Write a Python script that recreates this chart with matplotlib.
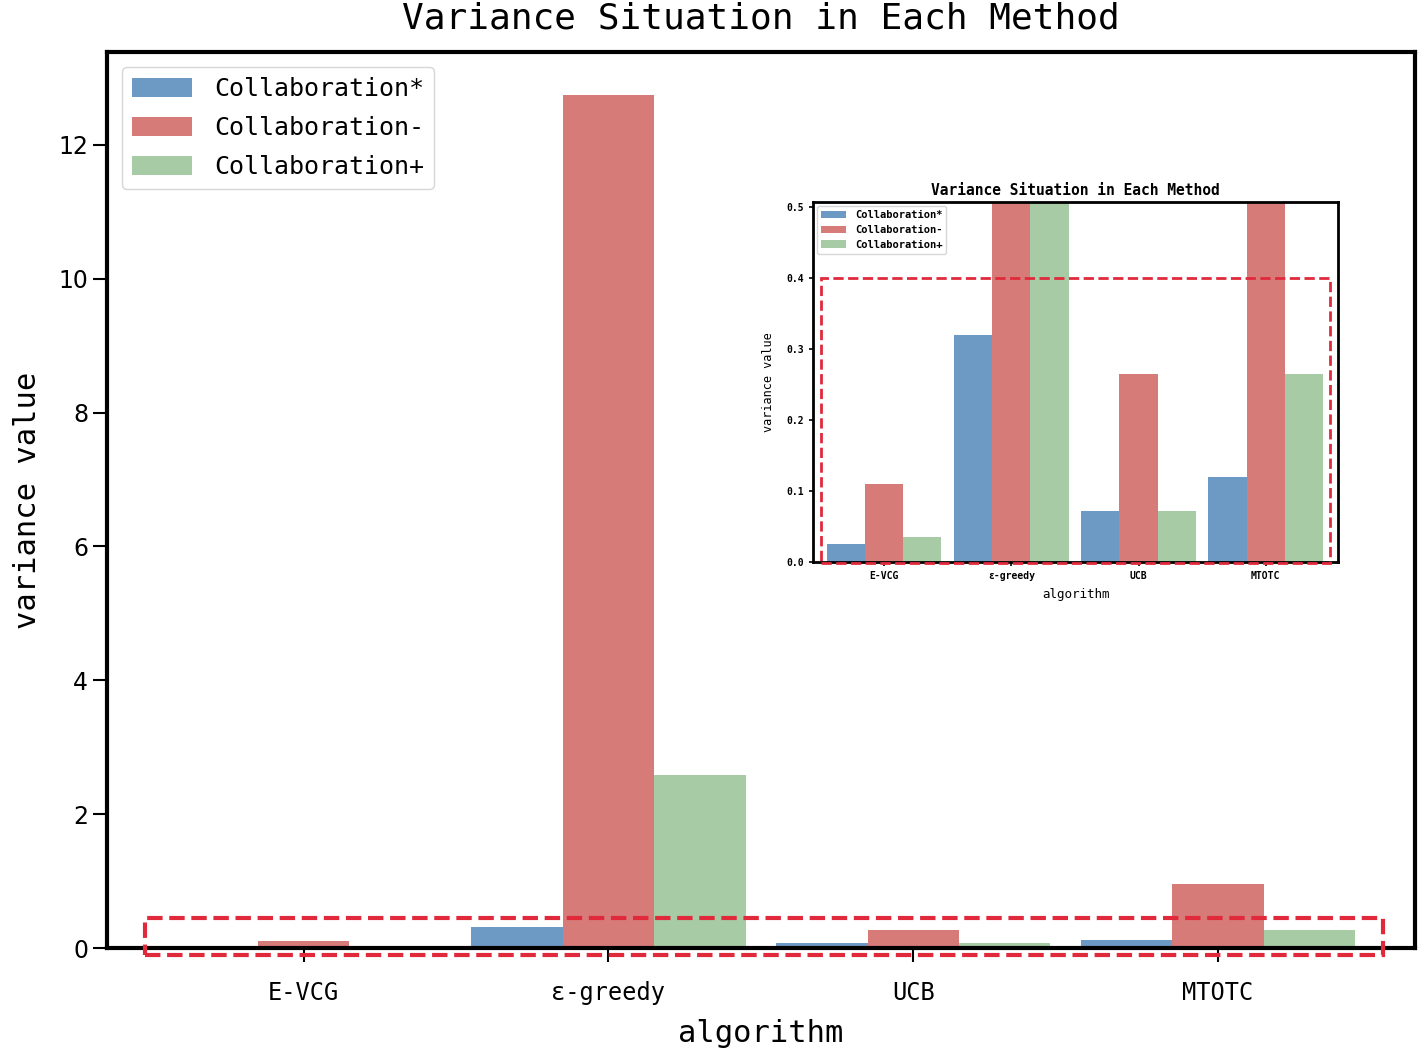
import matplotlib
matplotlib.use("Agg")
import matplotlib.pyplot as plt
import matplotlib.patches as mpatches
import numpy as np

plt.rcParams['font.family'] = ['DejaVu Sans Mono', 'DejaVu Sans']

# data
algorithms = ['E-VCG', 'ε-greedy', 'UCB', 'MTOTC']
series = ['Collaboration*', 'Collaboration-', 'Collaboration+']
collab_star = [0.025, 0.32, 0.072, 0.12]
collab_minus = [0.11, 12.75, 0.265, 0.957]
collab_plus = [0.035, 2.59, 0.072, 0.265]
colors = ['#6c9ac4', '#d77b79', '#a6cba5']
box_color = '#e02a3c'

values = [collab_star, collab_minus, collab_plus]
x = np.arange(len(algorithms))
w = 0.3


def draw_bars(ax):
    for i, (name, vals) in enumerate(zip(series, values)):
        ax.bar(x + (i - 1) * w, vals, w, color=colors[i], label=name)


fig = plt.figure(figsize=(14.19, 10.5), dpi=100)
ax = fig.add_axes([0.0754, 0.0971, 0.9216, 0.8534])
draw_bars(ax)
ax.set_xticks(x)
ax.set_xticklabels(algorithms, fontsize=17)
ax.tick_params(axis='y', labelsize=17, length=10, width=1.5)
ax.tick_params(axis='x', length=10, width=1.5, pad=14)
for lab in ax.get_yticklabels():
    lab.set_family('DejaVu Sans')
for s in ax.spines.values():
    s.set_linewidth(3)
ax.set_title('Variance Situation in Each Method', fontsize=26, pad=17)
ax.set_xlabel('algorithm', fontsize=22, labelpad=10)
ax.set_ylabel('variance value', fontsize=22, labelpad=12)
ax.legend(loc='upper left', fontsize=18, handlelength=2.4, handleheight=0.8,
          labelspacing=0.6, borderaxespad=0.6, handletextpad=0.9)

# highlight box near zero
ax.add_patch(mpatches.Rectangle((-0.52, -0.1), 4.06, 0.55, fill=False,
                                edgecolor=box_color, lw=3, ls='--',
                                clip_on=False, zorder=5))

# zoomed inset
ins = fig.add_axes([0.573, 0.4648, 0.37, 0.3429])
draw_bars(ins)
ins.set_ylim(0, 0.507)
ins.set_xlim(-0.56, 3.57)
ins.set_xticks(x)
ins.set_xticklabels(algorithms, fontsize=7, fontweight='bold')
ins.set_yticks([0.0, 0.1, 0.2, 0.3, 0.4, 0.5])
ins.set_yticklabels(['0.0', '0.1', '0.2', '0.3', '0.4', '0.5'], fontsize=7,
                    fontweight='bold')
ins.tick_params(length=3, width=1.2)
for s in ins.spines.values():
    s.set_linewidth(2)
ins.set_title('Variance Situation in Each Method', fontsize=10.5,
              fontweight='bold', pad=5)
ins.set_xlabel('algorithm', fontsize=9, labelpad=5)
ins.set_ylabel('variance value', fontsize=8.5, labelpad=8)
ins.legend(loc='upper left', handlelength=2.4, labelspacing=0.45,
           borderaxespad=0.4, prop={'size': 7.5, 'weight': 'bold'})
ins.add_patch(mpatches.Rectangle((-0.5, -0.002), 4.01, 0.402, fill=False,
                                 edgecolor=box_color, lw=2, ls='--',
                                 clip_on=False, zorder=5))

fig.savefig('out.png', dpi=100)
